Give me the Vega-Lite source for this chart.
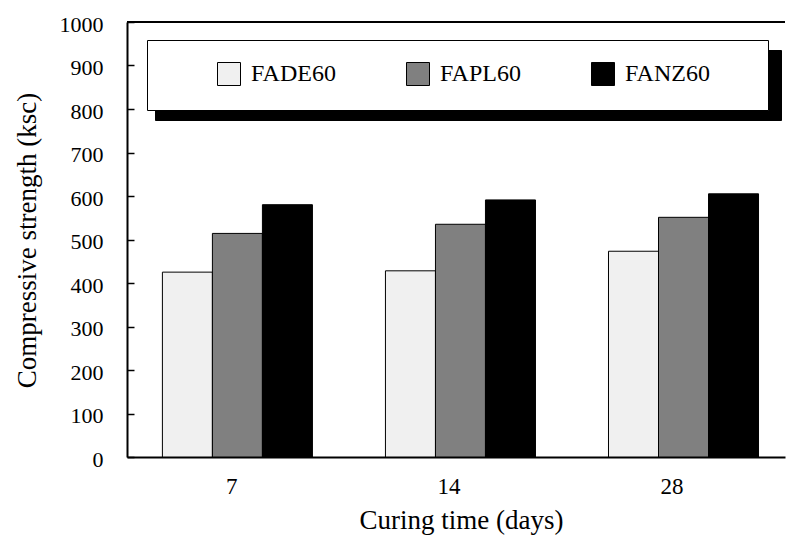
{
  "$schema": "https://vega.github.io/schema/vega-lite/v6.json",
  "width": 658,
  "height": 435,
  "autosize": "none",
  "padding": {"left": 127, "top": 22, "right": 1, "bottom": 82},
  "background": "white",
  "config": {
    "view": {"stroke": null},
    "font": "Liberation Serif",
    "legend": {
      "direction": "horizontal",
      "symbolType": "square",
      "symbolSize": 529,
      "symbolStrokeColor": "black",
      "symbolStrokeWidth": 1,
      "labelFont": "Liberation Serif",
      "labelFontSize": 24,
      "labelColor": "black",
      "labelOffset": 10,
      "labelLimit": 400,
      "padding": 22,
      "strokeColor": "black",
      "strokeWidth": 1,
      "titleOrient": "left",
      "titleFont": "Liberation Serif",
      "titleFontSize": 24,
      "titlePadding": 48,
      "gridAlign": "none"
    }
  },
  "data": {
    "values": [
      {"day": "7", "series": "FADE60", "strength": 425},
      {"day": "7", "series": "FAPL60", "strength": 514},
      {"day": "7", "series": "FANZ60", "strength": 580},
      {"day": "14", "series": "FADE60", "strength": 428},
      {"day": "14", "series": "FAPL60", "strength": 535},
      {"day": "14", "series": "FANZ60", "strength": 591},
      {"day": "28", "series": "FADE60", "strength": 473},
      {"day": "28", "series": "FAPL60", "strength": 551},
      {"day": "28", "series": "FANZ60", "strength": 605}
    ]
  },
  "layer": [
    {
      "mark": {"type": "point", "opacity": 0},
      "encoding": {
        "x": {"field": "day", "type": "nominal", "sort": ["7", "14", "28"]},
        "xOffset": {"field": "series", "type": "nominal", "sort": ["FADE60", "FAPL60", "FANZ60"]},
        "y": {"field": "strength", "type": "quantitative"},
        "shape": {
          "field": "series", "type": "nominal",
          "scale": {"domain": ["FADE60", "FAPL60", "FANZ60"]},
          "legend": {
            "title": " ",
            "orient": "top-left",
            "offset": 28,
            "fillColor": "black",
            "strokeColor": "black",
            "zindex": 0,
            "columnPadding": 214,
            "titlePadding": 48,
            "labelExpr": "''"
          }
        }
      }
    },
    {
      "mark": {"type": "bar", "stroke": "black", "strokeWidth": 1},
      "encoding": {
        "x": {
          "field": "day", "type": "nominal", "sort": ["7", "14", "28"],
          "scale": {"paddingInner": 0.1, "paddingOuter": 0.025, "align": 0.9},
          "axis": {
            "title": "Curing time (days)",
            "titleFont": "Liberation Serif",
            "titleFontSize": 27,
            "titleFontWeight": "normal",
            "titleColor": "black",
            "titleBaseline": "alphabetic",
            "titleX": 334,
            "titleY": 71,
            "labelAngle": 0,
            "labelFont": "Liberation Serif",
            "labelFontSize": 23,
            "labelColor": "black",
            "labelBaseline": "alphabetic",
            "labelPadding": 36,
            "ticks": false,
            "tickSize": 0,
            "domainColor": "black",
            "domainWidth": 2
          }
        },
        "xOffset": {
          "field": "series", "type": "nominal", "sort": ["FADE60", "FAPL60", "FANZ60"],
          "scale": {"paddingInner": 0, "paddingOuter": 0.507}
        },
        "y": {
          "field": "strength", "type": "quantitative",
          "scale": {"domain": [0, 1000], "nice": false},
          "axis": {
            "title": "Compressive strength (ksc)",
            "titleFont": "Liberation Serif",
            "titleFontSize": 27,
            "titleFontWeight": "normal",
            "titleColor": "black",
            "titleBaseline": "middle",
            "titleX": -100,
            "titleY": 218,
            "values": [0, 50, 100, 150, 200, 250, 300, 350, 400, 450, 500, 550, 600, 650, 700, 750, 800, 850, 900, 950, 1000],
            "labelExpr": "datum.value % 100 === 0 ? datum.label : ''",
            "format": "d",
            "labelFont": "Liberation Serif",
            "labelFontSize": 22,
            "labelColor": "black",
            "labelPadding": 31,
            "labelOffset": 2,
            "tickSize": -7,
            "tickColor": "black",
            "tickWidth": 1.5,
            "domainColor": "black",
            "domainWidth": 2,
            "grid": false
          }
        },
        "fill": {
          "field": "series", "type": "nominal",
          "scale": {"domain": ["FADE60", "FAPL60", "FANZ60"], "range": ["#f0f0f0", "#808080", "#000000"]},
          "legend": {
            "title": " ",
            "orient": "none",
            "legendX": 20, "legendY": 18,
            "fillColor": "white",
            "strokeColor": "black",
            "zindex": 1,
            "columnPadding": 68,
            "labelExpr": "datum.label == 'FANZ60' ? datum.label + '\u2800\u2800' : datum.label"
          }
        }
      }
    },
    {
      "mark": {"type": "rule", "color": "black", "strokeWidth": 2},
      "encoding": {"y": {"datum": 1000}}
    }
  ]
}
